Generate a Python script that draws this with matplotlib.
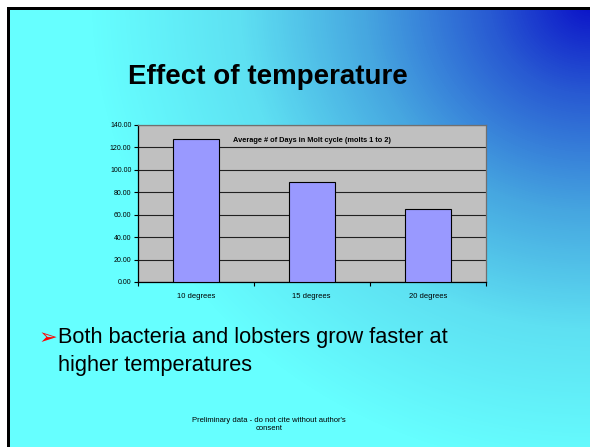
import matplotlib.pyplot as plt
import numpy as np
from matplotlib.colors import LinearSegmentedColormap
from matplotlib.patches import Rectangle

# Data
categories = ["10 degrees", "15 degrees", "20 degrees"]
days = [126.9, 88.7, 65.0]
yticks = np.arange(0, 141, 20)

W, H = 590, 447
fig = plt.figure(figsize=(W / 100, H / 100), dpi=100, facecolor='white')

# Slide background: radial gradient from the top-right corner
bg = fig.add_axes([0, 0, 1, 1])
bg.set_xlim(0, W)
bg.set_ylim(H, 0)
bg.axis('off')
xx, yy = np.meshgrid(np.arange(10, W) + 0.5, np.arange(10, H) + 0.5)
r = np.clip(np.sqrt(((W - xx) / 500) ** 2 + (yy / 470) ** 2), 0, 1)
cmap = LinearSegmentedColormap.from_list('slide', [
    (0.0, '#0A10C8'), (0.2, '#285AD2'), (0.45, '#46A6E0'),
    (0.7, '#5EE0F2'), (1.0, '#66FFFF')])
bg.imshow(r, cmap=cmap, vmin=0, vmax=1, extent=[10, W, H, 10], aspect='auto', interpolation='bilinear')
bg.add_patch(Rectangle((7, 7), 3, H, color='black', lw=0))
bg.add_patch(Rectangle((7, 7), W, 3, color='black', lw=0))

# Slide texts
bg.text(268, 77, "Effect of temperature", fontsize=20, fontweight='bold',
        family='Liberation Sans', ha='center', va='center')
bg.text(39, 338, "\u27a2", fontsize=16, color='red', family='DejaVu Sans', ha='left', va='center')
bg.text(58, 337, "Both bacteria and lobsters grow faster at", fontsize=15.7,
        family='Liberation Sans', ha='left', va='center')
bg.text(58, 365, "higher temperatures", fontsize=15.7,
        family='Liberation Sans', ha='left', va='center')
bg.text(269, 424, "Preliminary data - do not cite without author's\nconsent", fontsize=5.5,
        family='Liberation Sans', ha='center', va='center', linespacing=1.2)

# Chart
ax = fig.add_axes([137.7 / W, 1 - 282 / H, 348 / W, 157.3 / H])
ax.set_facecolor('#C0C0C0')
x = np.arange(len(categories))
ax.bar(x, days, width=0.4, color='#9999FF', edgecolor='black', linewidth=0.8, zorder=3)
ax.set_xlim(-0.5, len(categories) - 0.5)
ax.set_ylim(0, 140)
ax.set_yticks(yticks)
ax.set_yticklabels([f"{v:.2f}" for v in yticks], fontsize=5, family='Liberation Sans')
ax.set_xticks(x)
ax.set_xticklabels(categories, fontsize=5.5, family='Liberation Sans')
ax.set_xticks(np.arange(-0.5, len(categories)), minor=True)
ax.tick_params(axis='x', which='major', length=0, pad=8)
ax.tick_params(axis='x', which='minor', length=3, width=0.8, direction='out')
ax.tick_params(axis='y', length=3, width=0.8, pad=1.5)
ax.grid(axis='y', color='#202020', linewidth=0.8, zorder=1)
ax.set_axisbelow(True)
for s in ['left', 'bottom']:
    ax.spines[s].set_color('black')
    ax.spines[s].set_linewidth(0.9)
for s in ['top', 'right']:
    ax.spines[s].set_color('#707070')
    ax.spines[s].set_linewidth(0.9)
ax.text(0.5, 0.9, "Average # of Days in Molt cycle (molts 1 to 2)", transform=ax.transAxes,
        fontsize=5.3, fontweight='bold', family='Liberation Sans', ha='center', va='center')

fig.savefig('out.png', dpi=100)
